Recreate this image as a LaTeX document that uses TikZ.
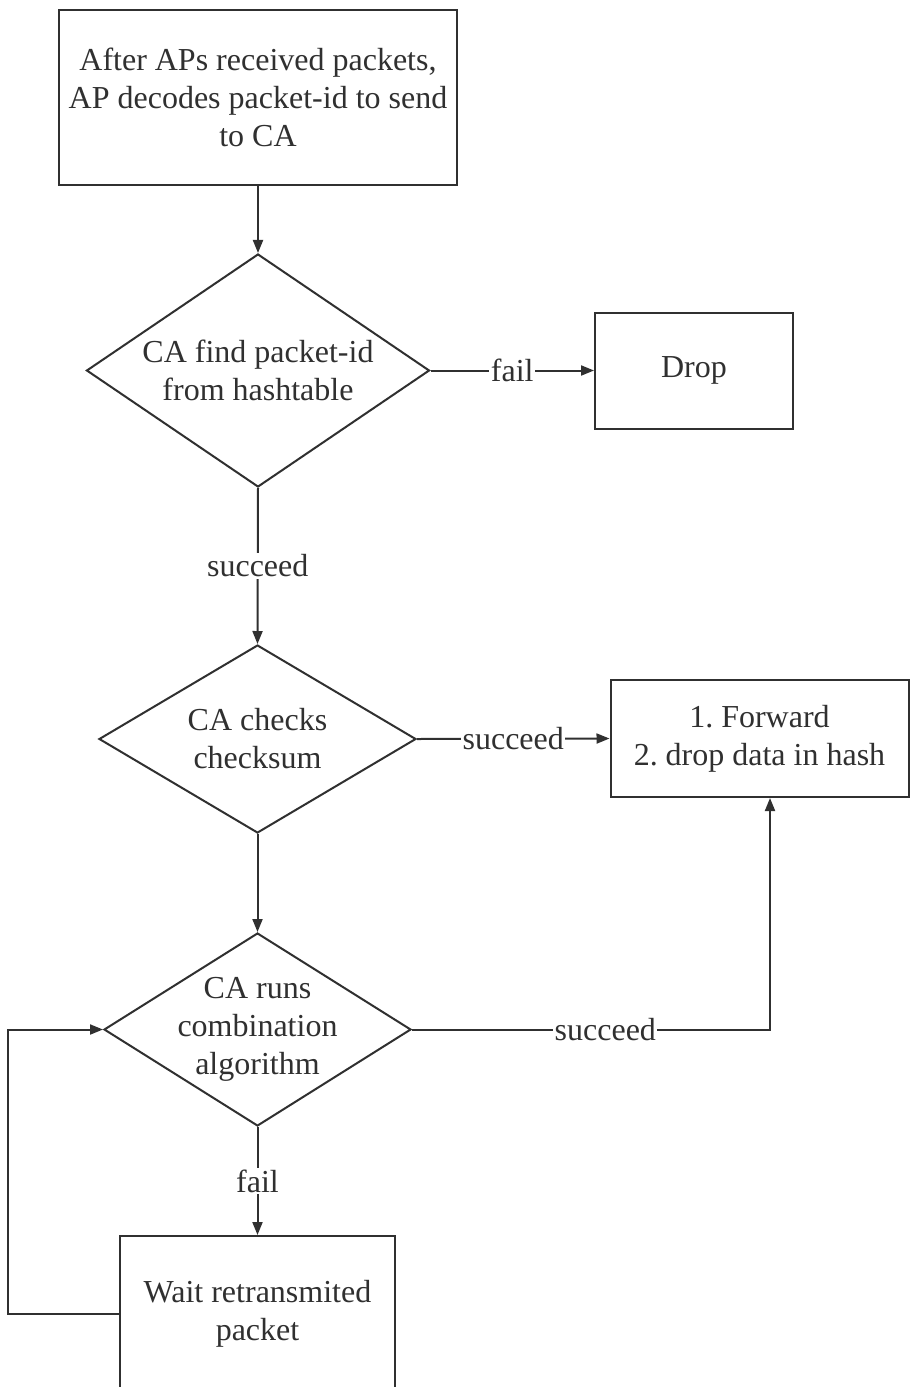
\documentclass[tikz,border=0pt]{standalone}
\usepackage{fontspec}
\setmainfont{Liberation Serif}
\newfontfamily\tmsfont{Liberation Serif}
\usetikzlibrary{shapes.geometric,arrows.meta}
\definecolor{ink}{HTML}{303030}
\tikzset{
  box/.style={draw=ink, line width=2pt, rectangle, inner sep=0pt, align=center, text=ink},
  dia/.style={draw=ink, line width=2pt, diamond, inner sep=0pt},
  dtext/.style={align=center, text=ink},
  conn/.style={draw=ink, line width=2pt, -{Triangle[length=13pt,width=10pt]}},
  lab/.style={fill=white, inner sep=1.5pt, text=ink},
}
\begin{document}
\begin{tikzpicture}[x=1pt,y=-1pt,font=\tmsfont\fontsize{32}{38}\selectfont]
\clip (0,0) rectangle (910,1387);
\fill[white] (0,0) rectangle (910,1387);
\node[box, minimum width=398pt, minimum height=175pt] (top) at (258,97.5) {After APs received packets,\\AP decodes packet-id to send\\to CA};
\node[dia, minimum width=343pt, minimum height=233pt] (d1) at (258,370.5) {};
\node[dtext] (t1) at (d1.center) {CA find packet-id\\from hashtable};
\node[box, minimum width=198pt, minimum height=116pt] (drop) at (694,370.5) {Drop};
\node[dia, minimum width=317pt, minimum height=188pt] (d2) at (257.5,739) {};
\node[dtext] (t2) at (d2.center) {CA checks\\checksum};
\node[box, minimum width=298pt, minimum height=117pt] (fwd) at (759.5,738.5) {1.\ Forward\\2.\ drop data in hash};
\node[dia, minimum width=307pt, minimum height=193pt] (d3) at (257.5,1029.5) {};
\node[dtext] (t3) at (d3.center) {CA runs\\combination\\algorithm};
\node[box, minimum width=275pt, minimum height=156pt] (wait) at (257.5,1314) {Wait retransmited\\packet};
\coordinate (loopA) at (8,1314);
\path (fwd.south) ++(10.5,0) coordinate (fwdIn);
\draw[conn] (top) -- (d1);
\draw[conn] (d1.east) -- node[lab] {fail} (drop.west);
\draw[conn] (d1.south) -- node[lab] {succeed} (d2.north);
\draw[conn] (d2.east) -- node[lab] {succeed} (fwd.west);
\draw[conn] (d2.south) -- (d3.north);
\draw[conn] (d3.east) -| node[lab, pos=0.27] {succeed} (fwdIn);
\draw[conn] (d3.south) -- node[lab] {fail} (wait.north);
\draw[conn] (wait.west) -- (loopA) |- (d3.west);
\end{tikzpicture}
\end{document}
